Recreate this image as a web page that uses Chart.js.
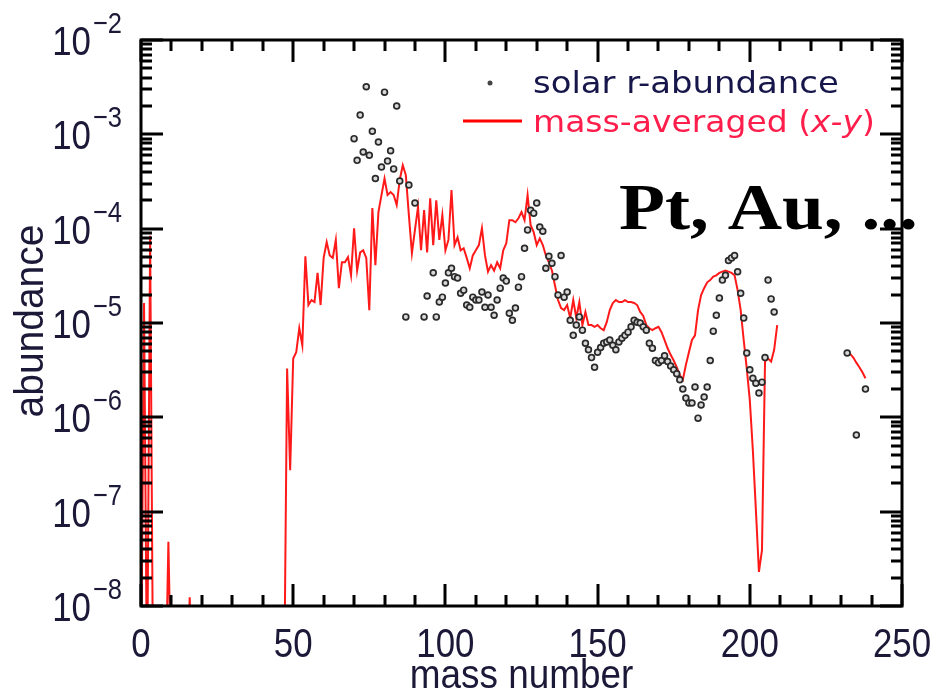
<!DOCTYPE html>
<html>
<head>
<meta charset="utf-8">
<script src="https://cdn.jsdelivr.net/npm/chart.js@4.4.1/dist/chart.umd.min.js"></script>
<style>
html, body { margin: 0; padding: 0; background: #fff; }
#wrap { width: 936px; height: 692px; position: relative; }
</style>
</head>
<body>
<div id="wrap"><canvas id="chart_rprocessAbundance"></canvas></div>
<script>
// solar r-process abundances (dots)
var solarMass = [70, 71, 72, 73, 74, 75, 76, 77, 78, 79, 80, 81, 82, 83, 84, 85, 87, 88, 90,
  93, 94, 96, 97, 98, 99, 100, 101, 102, 103, 104, 105, 106, 107, 108, 109, 110, 111, 112, 113,
  114, 115, 116, 117, 118, 119, 120, 121, 122, 123, 124, 125, 126, 127, 128, 129, 130, 131, 132,
  133, 134, 135, 136, 137, 138, 139, 140, 141, 142, 143, 144, 145, 146, 147, 148, 149, 150, 151,
  152, 153, 154, 155, 156, 157, 158, 159, 160, 161, 162, 163, 164, 165, 166, 167, 168, 169, 170,
  171, 172, 173, 174, 175, 176, 177, 178, 179, 180, 181, 182, 183, 184, 185, 186, 187, 188, 189,
  190, 191, 192, 193, 194, 195, 196, 197, 198, 199, 200, 201, 202, 203, 204, 205, 206, 207, 208,
  232, 235, 238];
var solarAbund = [9.0e-4, 5.3e-4, 1.6e-3, 6.5e-4, 3.2e-3, 6.0e-4, 1.08e-3, 3.4e-4, 8.3e-4, 4.5e-4,
  2.8e-3, 5.2e-4, 6.7e-4, 4.3e-4, 2.0e-3, 3.2e-4, 1.16e-5, 2.9e-4, 1.87e-4,
  1.16e-5, 1.93e-5, 3.4e-5, 1.16e-5, 1.67e-5, 1.88e-5, 2.65e-5, 3.4e-5, 3.8e-5, 3.1e-5, 3.0e-5,
  2.07e-5, 2.23e-5, 1.55e-5, 1.47e-5, 1.88e-5, 1.75e-5, 1.75e-5, 2.13e-5, 1.47e-5,
  1.98e-5, 1.47e-5, 1.21e-5, 1.75e-5, 2.34e-5, 3.0e-5, 2.78e-5, 1.27e-5, 1.07e-5, 1.44e-5, 2.4e-5,
  3.1e-5, 6.2e-5, 9.7e-5, 1.57e-4, 1.46e-4, 1.87e-4, 1.04e-4, 9.4e-5,
  3.8e-5, 5.1e-5, 4.3e-5, 3.1e-5, 1.98e-5, 5.2e-5, 1.88e-5, 2.13e-5, 1.07e-5, 7.4e-6, 9.5e-6,
  1.16e-5, 8.4e-6, 6.1e-6, 5.2e-6, 4.3e-6, 3.4e-6, 4.9e-6, 5.5e-6,
  6.1e-6, 6.3e-6, 6.6e-6, 5.8e-6, 5.2e-6, 6.3e-6, 6.9e-6, 7.4e-6, 8.0e-6, 9.1e-6, 1.07e-5,
  1.02e-5, 1.0e-5, 9.1e-6, 8.4e-6, 6.1e-6, 5.4e-6, 4.0e-6, 3.8e-6,
  4.0e-6, 4.5e-6, 3.9e-6, 3.5e-6, 3.2e-6, 2.9e-6, 2.5e-6, 2.0e-6, 1.6e-6, 1.42e-6, 1.42e-6,
  2.1e-6, 9.8e-7, 1.35e-6, 1.64e-6, 2.1e-6, 4.0e-6, 8.2e-6, 1.21e-5,
  1.84e-5, 2.85e-5, 3.2e-5, 4.6e-5, 4.9e-5, 5.2e-5, 3.5e-5, 2.07e-5, 1.13e-5, 4.8e-6, 3.2e-6,
  2.6e-6, 2.3e-6, 1.81e-6, 2.36e-6, 4.3e-6, 2.85e-5, 1.8e-5, 1.31e-5,
  4.8e-6, 6.5e-7, 2.0e-6];

// mass-averaged (x-y) abundances, null = gap in the curve
var avgLightMass = [0, 1, 2, 3, 4, 6, 8, 9, 10, 12, 15, 16, 17, 30];
var avgLightAbund = [1e-9, 1.63e-5, 1e-9, 8.4e-5, 1e-9, null, 1e-9, 4.8e-8, 1e-9, null, 1e-9, 1.24e-8, 1e-9, null];

var avgMainStart = 47;
var avgMainAbund = [1e-9, 3.3e-6, 2.75e-7, 4.2e-6, 4.9e-6, 8.8e-6, 5.8e-6, 5.1e-5, 1.55e-5, 1.75e-5,
  1.67e-5, 3.4e-5, 1.55e-5, 4.9e-5, 7.2e-5, 5.2e-5, 4.9e-5, 7.6e-5, 2.34e-5, 4.4e-5,
  4.4e-5, 5.0e-5, 3.2e-5, 1.01e-4, 3.6e-5, 5.6e-5, 5.9e-5, 4.9e-5, 1.37e-5, 1.65e-4,
  4.1e-5, 1.5e-4, 2.27e-4, 3.4e-4, 2.27e-4, 2.44e-4, 2.27e-4, 1.78e-4, 3.3e-4, 4.7e-4,
  3.7e-4, 1.39e-4, 5.5e-5, 9.7e-5, 1.7e-4, 5.9e-5, 1.57e-4, 5.6e-5, 2.1e-4, 6.7e-5,
  2.0e-4, 7.6e-5, 1.39e-4, 5.9e-5, 7.6e-5, 2.57e-4, 6.7e-5, 8.1e-5, 5.9e-5, 6.2e-5,
  4.9e-5, 3.8e-5, 5.2e-5, 5.9e-5, 6.7e-5, 1.01e-4, 5.2e-5, 3.5e-5, 4.1e-5, 3.6e-5,
  4.4e-5, 3.8e-5, 5.9e-5, 7.0e-5, 1.23e-4, 1.23e-4, 1.17e-4, 1.29e-4, 1.5e-4, 1.23e-4,
  2.27e-4, 1.09e-4, 9.2e-5, 6.7e-5, 7.9e-5, 6.7e-5, 5.2e-5, 4.4e-5, 3.6e-5, 2.5e-5,
  1.75e-5, 1.44e-5, 1.37e-5, 1.55e-5, 1.13e-5, 1.75e-5, 1.13e-5, 1.67e-5, 9.5e-6, 1.31e-5,
  9.5e-6, 9.5e-6, 9.1e-6, 9.5e-6, 8.8e-6, 8.4e-6, 1.02e-5, 1.37e-5, 1.63e-5, 1.75e-5,
  1.67e-5, 1.67e-5, 1.75e-5, 1.67e-5, 1.67e-5, 1.63e-5, 1.55e-5, 1.31e-5, 1.19e-5, 9.5e-6,
  8.8e-6, 8.4e-6, 8.8e-6, 9.1e-6, 8.0e-6, 6.6e-6, 5.4e-6, 4.6e-6, 4.0e-6, 3.4e-6,
  2.8e-6, 2.5e-6, 3.6e-6, 4.9e-6, 6.6e-6, 7.4e-6, 1.37e-5, 1.98e-5, 2.34e-5, 2.7e-5,
  2.85e-5, 3.1e-5, 3.2e-5, 3.4e-5, 3.5e-5, 3.6e-5, 3.5e-5, 3.4e-5, 3.2e-5, 2.23e-5,
  1.37e-5, 6.6e-6, 3.3e-6, 1.52e-6, 4.5e-7, 1.04e-7, 2.3e-8, 3.9e-8, 3.9e-6, 4.2e-6,
  3.9e-6, 5.2e-6, 9.5e-6];

var avgHeavyMass = [220, 232, 233, 234, 235, 236, 237, 238];
var avgHeavyAbund = [null, 4.9e-6, 4.7e-6, 4.3e-6, 3.8e-6, 3.4e-6, 3.0e-6, 2.6e-6];

// axes
var xMajorTicks = [0, 50, 100, 150, 200, 250];
var xTickLabels = ['0', '50', '100', '150', '200', '250'];
var xMinorTicks = [10, 20, 30, 40, 60, 70, 80, 90, 110, 120, 130, 140, 160, 170, 180, 190, 210, 220, 230, 240];
var yMajorTicks = [1e-2, 1e-3, 1e-4, 1e-5, 1e-6, 1e-7, 1e-8];
var yTickExponents = ['\u22122', '\u22123', '\u22124', '\u22125', '\u22126', '\u22127', '\u22128'];
var yMinorMantissas = [2, 3, 4, 5, 6, 7, 8, 9];

var legendLabels = ['solar r-abundance', 'mass-averaged ('];
var noteText = 'Pt, Au, ...';

var solarPoints = solarMass.map(function (m, i) { return {x: m, y: solarAbund[i]}; });
var avgPoints = [];
avgLightMass.forEach(function (m, i) { avgPoints.push({x: m, y: avgLightAbund[i]}); });
avgMainAbund.forEach(function (v, i) { avgPoints.push({x: avgMainStart + i, y: v}); });
avgHeavyMass.forEach(function (m, i) { avgPoints.push({x: m, y: avgHeavyAbund[i]}); });

var yMinorTicks = [];
for (var e = -8; e <= -3; e++) {
  yMinorMantissas.forEach(function (k) { yMinorTicks.push(k * Math.pow(10, e)); });
}

function drawText(ctx, text, x, y, font, sx, align, color) {
  ctx.save();
  ctx.font = font;
  ctx.fillStyle = color;
  ctx.textBaseline = 'alphabetic';
  ctx.textAlign = 'left';
  var w = ctx.measureText(text).width * sx;
  var left = align === 'center' ? x - w / 2 : (align === 'right' ? x - w : x);
  ctx.translate(left, y);
  ctx.scale(sx, 1);
  ctx.fillText(text, 0, 0);
  ctx.restore();
  return w;
}

var tickColor = '#1b1838';
var labelFont = '41px "Liberation Sans", Arial, sans-serif';
var supFont = '30px "Liberation Sans", Arial, sans-serif';

var framePlugin = {
  id: 'framePlugin',
  beforeDraw: function (chart) {
    var ctx = chart.ctx;
    ctx.save();
    ctx.fillStyle = 'white';
    ctx.fillRect(0, 0, chart.width, chart.height);
    ctx.restore();
  },
  afterDatasetsDraw: function (chart) {
    var ctx = chart.ctx;
    var a = chart.chartArea;
    var xs = chart.scales.x, ys = chart.scales.y;
    ctx.save();
    ctx.strokeStyle = '#000';
    ctx.lineWidth = 3;
    ctx.lineCap = 'butt';
    ctx.strokeRect(a.left, a.top, a.right - a.left, a.bottom - a.top);

    function xTick(v, len) {
      var px = Math.round(xs.getPixelForValue(v));
      ctx.beginPath();
      ctx.moveTo(px, a.bottom); ctx.lineTo(px, a.bottom - len);
      ctx.moveTo(px, a.top); ctx.lineTo(px, a.top + len);
      ctx.stroke();
    }
    function yTick(v, len) {
      var py = Math.round(ys.getPixelForValue(v));
      ctx.beginPath();
      ctx.moveTo(a.left, py); ctx.lineTo(a.left + len, py);
      ctx.moveTo(a.right, py); ctx.lineTo(a.right - len, py);
      ctx.stroke();
    }
    xMinorTicks.forEach(function (v) { xTick(v, 11); });
    xMajorTicks.forEach(function (v) { xTick(v, 22); });
    yMinorTicks.forEach(function (v) { yTick(v, 11); });
    yMajorTicks.forEach(function (v) { yTick(v, 22); });
    ctx.restore();

    // tick labels
    xMajorTicks.forEach(function (v, i) {
      drawText(ctx, xTickLabels[i], xs.getPixelForValue(v), 657, labelFont, 0.85, 'center', tickColor);
    });
    yMajorTicks.forEach(function (v, i) {
      var py = ys.getPixelForValue(v);
      var w = drawText(ctx, yTickExponents[i], 122, py - 7, supFont, 0.85, 'right', tickColor);
      drawText(ctx, '10', 122 - w - 2, py + 15, labelFont, 0.85, 'right', tickColor);
    });

    // axis titles
    drawText(ctx, 'mass number', (a.left + a.right) / 2, 688, labelFont, 0.9, 'center', tickColor);
    ctx.save();
    ctx.translate(43, (a.top + a.bottom) / 2 - 2);
    ctx.rotate(-Math.PI / 2);
    drawText(ctx, 'abundance', 0, 0, labelFont, 0.95, 'center', tickColor);
    ctx.restore();

    // legend
    ctx.save();
    ctx.fillStyle = '#444';
    ctx.beginPath();
    ctx.arc(490, 83, 2.5, 0, Math.PI * 2);
    ctx.fill();
    ctx.strokeStyle = '#ff0000';
    ctx.lineWidth = 3;
    ctx.beginPath();
    ctx.moveTo(463, 121); ctx.lineTo(522, 121);
    ctx.stroke();
    ctx.restore();
    var legFont = '30px "DejaVu Sans", sans-serif';
    var legItal = 'italic 30px "DejaVu Sans", sans-serif';
    drawText(ctx, legendLabels[0], 533, 93, legFont, 1.13, 'left', '#16164a');
    var red = '#ff1e4b';
    var x0 = 533;
    x0 += drawText(ctx, legendLabels[1], x0, 132, legFont, 1.1, 'left', red);
    x0 += drawText(ctx, 'x-y', x0, 132, legItal, 1.1, 'left', red);
    drawText(ctx, ')', x0, 132, legFont, 1.1, 'left', red);

    // annotation
    drawText(ctx, noteText, 619, 229, 'bold 66px "Liberation Serif", "Times New Roman", serif', 1.14, 'left', '#000');
  }
};

var chart_rprocessAbundance = new Chart(document.getElementById('chart_rprocessAbundance'), {
  type: 'scatter',
  data: {
    datasets: [
      {
        label: 'solar r-abundance',
        data: solarPoints,
        showLine: false,
        pointStyle: 'circle',
        pointRadius: 2.9,
        pointBorderWidth: 1.7,
        pointBorderColor: '#2a2a2a',
        pointBackgroundColor: '#d8d8d8'
      },
      {
        label: 'mass-averaged (x-y)',
        type: 'line',
        data: avgPoints,
        borderColor: 'rgba(255, 0, 0, 0.9)',
        borderWidth: 2,
        pointRadius: 0,
        tension: 0,
        spanGaps: false,
        fill: false
      }
    ]
  },
  options: {
    animation: false,
    responsive: true,
    maintainAspectRatio: false,
    events: [],
    layout: { padding: { left: 141, right: 34, top: 40, bottom: 86 } },
    plugins: {
      legend: { display: false },
      tooltip: { enabled: false },
      title: { display: false }
    },
    scales: {
      x: {
        type: 'linear',
        min: 0,
        max: 250,
        display: false
      },
      y: {
        type: 'logarithmic',
        min: 1e-8,
        max: 1e-2,
        display: false
      }
    }
  },
  plugins: [framePlugin]
});
</script>
</body>
</html>
